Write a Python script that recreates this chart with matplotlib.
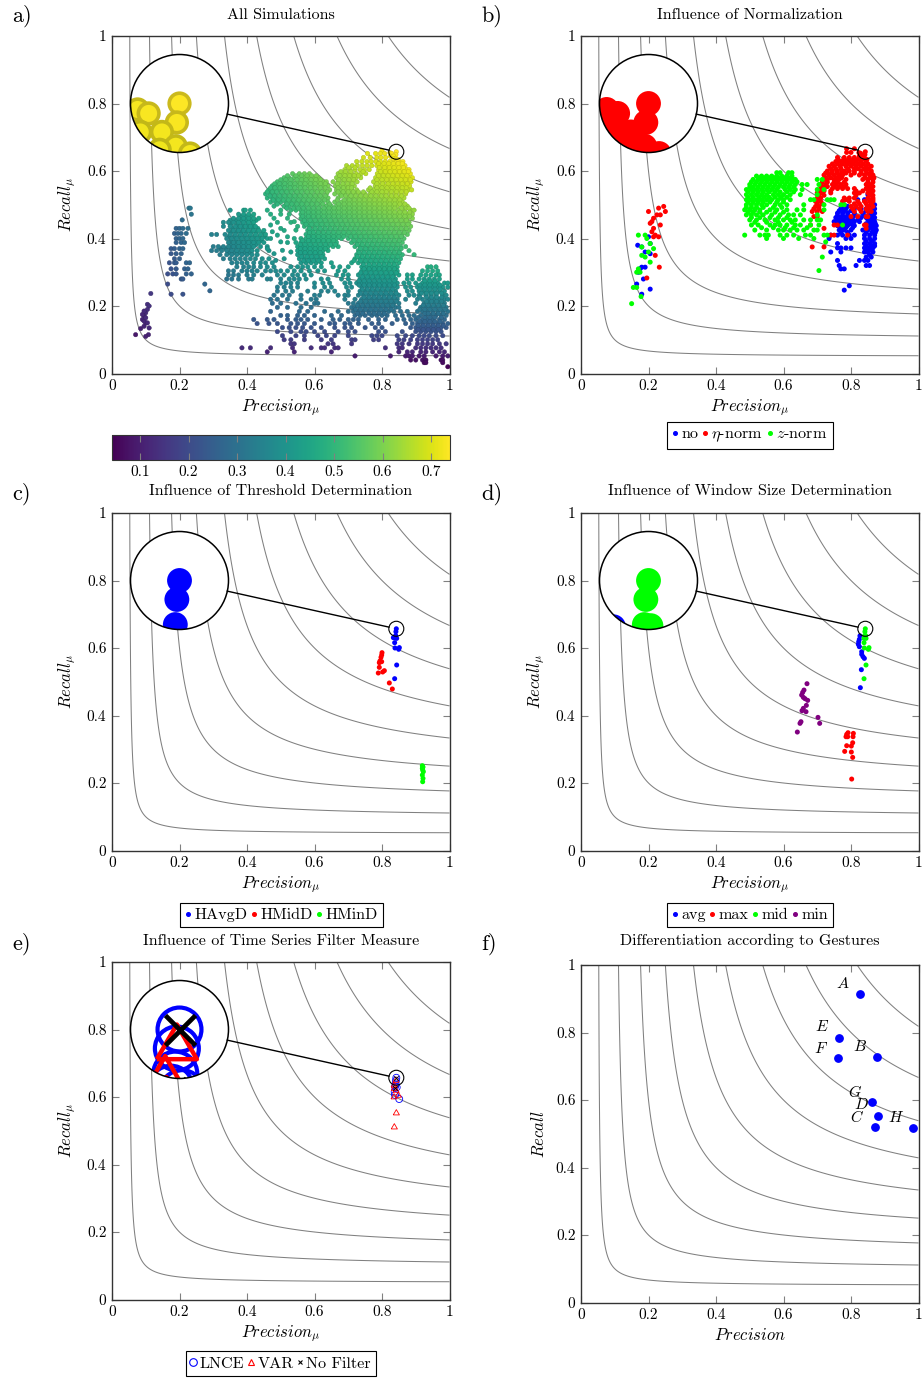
import numpy as np
import matplotlib
matplotlib.use("Agg")
import matplotlib.pyplot as plt
from matplotlib.lines import Line2D
from matplotlib.patches import Circle
from matplotlib.colors import Normalize
from matplotlib.cm import ScalarMappable

plt.rcParams['font.family'] = ['cmr10', 'DejaVu Serif']
plt.rcParams['mathtext.fontset'] = 'cm'
plt.rcParams['axes.formatter.use_mathtext'] = True

W, H = 922, 1378
SIZE = 337.5
GRAY = '#808080'

ticks = [0, 0.2, 0.4, 0.6, 0.8, 1]
tick_labels = ['0', '0.2', '0.4', '0.6', '0.8', '1']
f_levels = [0.1, 0.2, 0.3, 0.4, 0.5, 0.6, 0.7, 0.8, 0.9]
cbar_ticks = [0.1, 0.2, 0.3, 0.4, 0.5, 0.6, 0.7]

# spy glass: region that gets magnified
spy_p, spy_r = 0.8424, 0.657

# points that are visible inside the lens (same in several panels)
top_p = [0.8424, 0.8412, 0.8405]
top_r = [0.657, 0.6484, 0.637]

# a) rows of recall -> precision values
a_main_recall = [0.66, 0.652, 0.64, 0.628, 0.616, 0.604, 0.592, 0.58, 0.568, 0.556, 0.544, 0.532, 0.52, 0.508,
                 0.496, 0.484, 0.472, 0.46, 0.448, 0.436, 0.424, 0.412, 0.4, 0.388, 0.376, 0.364, 0.352, 0.34,
                 0.328, 0.316, 0.304, 0.292, 0.28, 0.268, 0.256, 0.244, 0.232, 0.22, 0.208, 0.196, 0.184, 0.172,
                 0.16, 0.148, 0.136, 0.124, 0.112, 0.1, 0.088, 0.076, 0.064, 0.052, 0.04, 0.032, 0.02]
a_main_precision = [
    [0.80],
    [0.757, 0.781, 0.795, 0.808],
    [0.745, 0.765, 0.785, 0.797, 0.811],
    [0.725, 0.74, 0.755, 0.768, 0.782, 0.795, 0.809, 0.823, 0.837, 0.851, 0.862],
    [0.695, 0.712, 0.727, 0.742, 0.756, 0.77, 0.785, 0.799, 0.813, 0.827, 0.841, 0.855, 0.868],
    [0.69, 0.705, 0.72, 0.735, 0.748, 0.762, 0.79, 0.804, 0.818, 0.832, 0.846, 0.86, 0.873, 0.88],
    [0.535, 0.555, 0.57, 0.585, 0.67, 0.682, 0.696, 0.71, 0.724, 0.738, 0.752, 0.786, 0.8, 0.814, 0.828, 0.842, 0.856, 0.87, 0.884],
    [0.51, 0.525, 0.54, 0.555, 0.57, 0.584, 0.598, 0.612, 0.665, 0.68, 0.694, 0.708, 0.722, 0.737, 0.781, 0.795, 0.809, 0.823, 0.837, 0.851, 0.865, 0.878, 0.89],
    [0.49, 0.505, 0.52, 0.535, 0.55, 0.565, 0.58, 0.595, 0.61, 0.625, 0.635, 0.655, 0.67, 0.684, 0.698, 0.712, 0.726, 0.775, 0.79, 0.804, 0.818, 0.832, 0.846, 0.86, 0.872, 0.886],
    [0.475, 0.49, 0.505, 0.52, 0.535, 0.55, 0.565, 0.58, 0.595, 0.61, 0.625, 0.64, 0.662, 0.676, 0.69, 0.704, 0.718, 0.78, 0.795, 0.81, 0.825, 0.84, 0.853, 0.868, 0.882],
    [0.465, 0.48, 0.495, 0.51, 0.525, 0.54, 0.555, 0.57, 0.585, 0.6, 0.615, 0.63, 0.645, 0.665, 0.68, 0.695, 0.71, 0.725, 0.76, 0.775, 0.79, 0.805, 0.82, 0.835, 0.85, 0.865, 0.878, 0.888],
    [0.455, 0.47, 0.485, 0.5, 0.515, 0.53, 0.545, 0.56, 0.575, 0.59, 0.605, 0.62, 0.635, 0.66, 0.675, 0.69, 0.705, 0.72, 0.735, 0.75, 0.765, 0.78, 0.795, 0.81, 0.825, 0.84, 0.855, 0.87],
    [0.46, 0.475, 0.49, 0.505, 0.52, 0.535, 0.55, 0.565, 0.58, 0.595, 0.61, 0.625, 0.64, 0.67, 0.7, 0.715, 0.73, 0.745, 0.76, 0.775, 0.79, 0.805, 0.82, 0.835, 0.85, 0.865],
    [0.47, 0.485, 0.5, 0.515, 0.53, 0.545, 0.56, 0.575, 0.59, 0.605, 0.62, 0.64, 0.66, 0.68, 0.695, 0.71, 0.725, 0.74, 0.755, 0.77, 0.785, 0.8, 0.815, 0.83, 0.845, 0.86],
    [0.48, 0.51, 0.525, 0.54, 0.555, 0.57, 0.585, 0.6, 0.615, 0.635, 0.65, 0.665, 0.68, 0.695, 0.71, 0.725, 0.74, 0.755, 0.77, 0.785, 0.8, 0.815, 0.83, 0.845, 0.86, 0.875],
    [0.46, 0.5, 0.53, 0.545, 0.56, 0.575, 0.59, 0.605, 0.62, 0.635, 0.65, 0.665, 0.68, 0.695, 0.71, 0.725, 0.74, 0.755, 0.77, 0.785, 0.8, 0.815, 0.83, 0.85, 0.865, 0.885, 0.895],
    [0.47, 0.5, 0.525, 0.56, 0.575, 0.59, 0.605, 0.62, 0.635, 0.65, 0.665, 0.68, 0.695, 0.71, 0.725, 0.74, 0.755, 0.77, 0.785, 0.8, 0.815, 0.83, 0.845, 0.86, 0.875, 0.89],
    [0.48, 0.52, 0.56, 0.575, 0.59, 0.605, 0.62, 0.635, 0.65, 0.665, 0.68, 0.695, 0.71, 0.725, 0.74, 0.755, 0.77, 0.785, 0.8, 0.815, 0.83, 0.845, 0.86, 0.875, 0.89],
    [0.49, 0.53, 0.565, 0.58, 0.595, 0.61, 0.625, 0.64, 0.655, 0.67, 0.685, 0.7, 0.715, 0.73, 0.745, 0.76, 0.775, 0.79, 0.805, 0.82, 0.835, 0.85, 0.865, 0.88],
    [0.55, 0.57, 0.585, 0.6, 0.615, 0.63, 0.645, 0.66, 0.675, 0.69, 0.705, 0.72, 0.735, 0.75, 0.765, 0.78, 0.795, 0.81, 0.825, 0.84, 0.855, 0.87, 0.885],
    [0.51, 0.58, 0.595, 0.61, 0.625, 0.64, 0.655, 0.67, 0.685, 0.7, 0.715, 0.73, 0.745, 0.76, 0.775, 0.79, 0.805, 0.82, 0.835, 0.85, 0.865, 0.88],
    [0.575, 0.59, 0.605, 0.62, 0.635, 0.65, 0.665, 0.68, 0.695, 0.71, 0.725, 0.74, 0.755, 0.77, 0.785, 0.8, 0.815, 0.83, 0.845, 0.86, 0.875],
    [0.54, 0.56, 0.575, 0.59, 0.605, 0.62, 0.635, 0.65, 0.665, 0.68, 0.7, 0.715, 0.73, 0.745, 0.76, 0.775, 0.79, 0.805, 0.82, 0.835, 0.85, 0.865],
    [0.52, 0.545, 0.56, 0.575, 0.59, 0.605, 0.62, 0.635, 0.65, 0.665, 0.71, 0.725, 0.74, 0.755, 0.77, 0.785, 0.8, 0.815, 0.83, 0.845, 0.86],
    [0.55, 0.565, 0.58, 0.595, 0.61, 0.625, 0.64, 0.655, 0.67, 0.72, 0.735, 0.75, 0.765, 0.78, 0.795, 0.81, 0.825, 0.84, 0.855, 0.87],
    [0.55, 0.565, 0.58, 0.595, 0.61, 0.625, 0.64, 0.73, 0.745, 0.76, 0.775, 0.79, 0.805, 0.82, 0.835, 0.85, 0.88],
    [0.55, 0.565, 0.58, 0.595, 0.61, 0.625, 0.725, 0.74, 0.755, 0.77, 0.785, 0.8, 0.815, 0.83, 0.845, 0.86, 0.895],
    [0.555, 0.57, 0.585, 0.6, 0.615, 0.63, 0.72, 0.735, 0.75, 0.765, 0.78, 0.795, 0.81, 0.825, 0.84, 0.855],
    [0.56, 0.575, 0.59, 0.605, 0.62, 0.65, 0.71, 0.73, 0.745, 0.76, 0.775, 0.79, 0.805, 0.82, 0.835, 0.85],
    [0.53, 0.55, 0.565, 0.58, 0.6, 0.62, 0.655, 0.675, 0.7, 0.74, 0.755, 0.77, 0.785, 0.8, 0.815, 0.83, 0.845, 0.935, 0.945, 0.96],
    [0.5, 0.52, 0.54, 0.56, 0.585, 0.61, 0.63, 0.67, 0.69, 0.74, 0.755, 0.77, 0.785, 0.8, 0.815, 0.83, 0.845, 0.92, 0.935, 0.95, 0.965],
    [0.51, 0.535, 0.55, 0.57, 0.59, 0.665, 0.685, 0.7, 0.73, 0.745, 0.76, 0.775, 0.79, 0.805, 0.82, 0.835, 0.85, 0.875, 0.89, 0.915, 0.93, 0.945, 0.96, 0.97],
    [0.5, 0.525, 0.54, 0.555, 0.575, 0.62, 0.64, 0.68, 0.7, 0.735, 0.75, 0.765, 0.78, 0.795, 0.81, 0.825, 0.84, 0.875, 0.89, 0.91, 0.925, 0.94, 0.955, 0.97],
    [0.5, 0.515, 0.53, 0.55, 0.6, 0.625, 0.645, 0.69, 0.705, 0.725, 0.74, 0.755, 0.77, 0.785, 0.8, 0.815, 0.83, 0.845, 0.865, 0.88, 0.9, 0.92, 0.935, 0.95, 0.965, 0.985, 0.995],
    [0.49, 0.51, 0.53, 0.55, 0.6, 0.63, 0.65, 0.695, 0.71, 0.74, 0.755, 0.77, 0.785, 0.8, 0.815, 0.83, 0.845, 0.87, 0.885, 0.905, 0.92, 0.935, 0.95, 0.965, 0.98, 0.995],
    [0.49, 0.515, 0.535, 0.58, 0.62, 0.64, 0.66, 0.7, 0.735, 0.75, 0.765, 0.78, 0.795, 0.81, 0.825, 0.84, 0.875, 0.89, 0.91, 0.925, 0.94, 0.955, 0.97, 0.985],
    [0.48, 0.505, 0.525, 0.56, 0.6, 0.615, 0.67, 0.69, 0.7, 0.73, 0.745, 0.76, 0.775, 0.79, 0.805, 0.82, 0.835, 0.85, 0.88, 0.895, 0.91, 0.93, 0.945, 0.96, 0.98, 0.99],
    [0.47, 0.49, 0.52, 0.56, 0.59, 0.605, 0.69, 0.72, 0.74, 0.755, 0.77, 0.785, 0.8, 0.815, 0.83, 0.845, 0.87, 0.905, 0.92, 0.94, 0.955, 0.97, 0.985, 0.995],
    [0.475, 0.5, 0.545, 0.575, 0.6, 0.61, 0.7, 0.715, 0.73, 0.745, 0.76, 0.775, 0.79, 0.805, 0.82, 0.835, 0.85, 0.9, 0.925, 0.94, 0.955, 0.97, 0.985],
    [0.49, 0.52, 0.56, 0.59, 0.71, 0.72, 0.735, 0.75, 0.765, 0.78, 0.795, 0.81, 0.825, 0.84, 0.85, 0.915, 0.93, 0.945, 0.96, 0.975, 0.99],
    [0.47, 0.555, 0.58, 0.63, 0.67, 0.7, 0.715, 0.73, 0.745, 0.76, 0.775, 0.79, 0.805, 0.82, 0.835, 0.855, 0.875, 0.905, 0.92, 0.935, 0.95, 0.965, 0.98, 0.995],
    [0.5, 0.52, 0.55, 0.57, 0.6, 0.65, 0.68, 0.72, 0.735, 0.75, 0.77, 0.785, 0.8, 0.815, 0.84, 0.86, 0.88, 0.895, 0.915, 0.93, 0.945, 0.96, 0.975, 0.99],
    [0.42, 0.46, 0.48, 0.52, 0.545, 0.56, 0.58, 0.62, 0.655, 0.675, 0.7, 0.715, 0.73, 0.76, 0.79, 0.81, 0.845, 0.865, 0.885, 0.9, 0.92, 0.935, 0.95, 0.97, 0.985],
    [0.43, 0.465, 0.49, 0.53, 0.55, 0.57, 0.6, 0.645, 0.66, 0.69, 0.705, 0.73, 0.77, 0.79, 0.83, 0.87, 0.89, 0.905, 0.92, 0.935, 0.95, 0.965, 0.98, 0.995],
    [0.505, 0.525, 0.545, 0.565, 0.59, 0.62, 0.66, 0.69, 0.71, 0.75, 0.78, 0.8, 0.885, 0.9, 0.915, 0.93, 0.945, 0.96, 0.975, 0.99],
    [0.49, 0.53, 0.56, 0.575, 0.6, 0.63, 0.67, 0.7, 0.72, 0.79, 0.81, 0.86, 0.9, 0.915, 0.93, 0.945, 0.96, 0.975],
    [0.505, 0.545, 0.57, 0.61, 0.635, 0.66, 0.7, 0.77, 0.785, 0.8, 0.845, 0.87, 0.89, 0.91, 0.925, 0.94, 0.96, 0.98],
    [0.51, 0.53, 0.57, 0.62, 0.65, 0.71, 0.72, 0.775, 0.79, 0.85, 0.865, 0.885, 0.905, 0.92, 0.935, 0.95, 0.965],
    [0.53, 0.54, 0.64, 0.655, 0.71, 0.845, 0.86, 0.88, 0.905, 0.92, 0.935, 0.95, 0.97, 0.99],
    [0.385, 0.41, 0.47, 0.535, 0.59, 0.62, 0.63, 0.66, 0.67, 0.81, 0.85, 0.86, 0.9, 0.915, 0.93, 0.945, 0.96, 0.975],
    [0.46, 0.54, 0.65, 0.85, 0.875, 0.89, 0.915, 0.93, 0.95, 0.97, 0.985],
    [0.72, 0.825, 0.87, 0.88, 0.89, 0.91, 0.925, 0.96, 0.98, 0.995],
    [0.885, 0.9, 0.92, 0.93, 0.975, 0.98],
    [0.925, 0.93, 0.98],
    [0.995],
]
# dense parts have more points between the rows above
a_fill_recall = [0.622, 0.61, 0.598, 0.586, 0.574, 0.562, 0.55, 0.538, 0.526, 0.514, 0.502, 0.49, 0.478, 0.466, 0.454,
                 0.442, 0.43, 0.418, 0.406, 0.394, 0.382, 0.37, 0.358, 0.346, 0.334, 0.322, 0.31, 0.298, 0.286, 0.274,
                 0.262, 0.25, 0.238, 0.226, 0.214, 0.202, 0.19, 0.178, 0.166, 0.154, 0.142, 0.13]
a_fill_precision = [
    [0.79, 0.806, 0.82, 0.834, 0.848, 0.86],
    [0.702, 0.72, 0.792, 0.808, 0.822, 0.836, 0.85, 0.864],
    [0.678, 0.692, 0.708, 0.744, 0.796, 0.81, 0.824, 0.838, 0.852, 0.866, 0.878],
    [0.52, 0.545, 0.562, 0.578, 0.592, 0.605, 0.675, 0.69, 0.704, 0.718, 0.73, 0.79, 0.804, 0.818, 0.832, 0.846, 0.86, 0.874],
    [0.5, 0.515, 0.53, 0.548, 0.562, 0.575, 0.59, 0.604, 0.618, 0.672, 0.688, 0.702, 0.716, 0.785, 0.8, 0.814, 0.828, 0.842, 0.856, 0.87, 0.884],
    [0.482, 0.497, 0.512, 0.528, 0.542, 0.558, 0.572, 0.588, 0.602, 0.618, 0.632, 0.668, 0.684, 0.698, 0.712, 0.785, 0.802, 0.818, 0.832, 0.846, 0.86, 0.875],
    [0.47, 0.483, 0.498, 0.512, 0.528, 0.542, 0.558, 0.572, 0.588, 0.602, 0.618, 0.632, 0.67, 0.686, 0.7, 0.71, 0.765, 0.785, 0.8, 0.815, 0.83, 0.845, 0.86, 0.872],
    [0.46, 0.475, 0.488, 0.503, 0.518, 0.532, 0.548, 0.562, 0.578, 0.592, 0.608, 0.622, 0.638, 0.67, 0.685, 0.7, 0.715, 0.73, 0.745, 0.77, 0.785, 0.8, 0.813, 0.828, 0.843, 0.858, 0.872],
    [0.468, 0.482, 0.497, 0.512, 0.527, 0.542, 0.557, 0.572, 0.587, 0.602, 0.617, 0.632, 0.68, 0.692, 0.708, 0.722, 0.737, 0.752, 0.767, 0.782, 0.798, 0.812, 0.828, 0.842, 0.858],
    [0.478, 0.493, 0.508, 0.523, 0.538, 0.553, 0.568, 0.583, 0.598, 0.613, 0.63, 0.668, 0.688, 0.703, 0.718, 0.733, 0.748, 0.763, 0.778, 0.793, 0.808, 0.823, 0.838, 0.853],
    [0.49, 0.518, 0.533, 0.548, 0.563, 0.578, 0.593, 0.608, 0.625, 0.645, 0.672, 0.688, 0.703, 0.718, 0.733, 0.748, 0.763, 0.778, 0.793, 0.808, 0.823, 0.838, 0.853, 0.868],
    [0.518, 0.538, 0.552, 0.567, 0.582, 0.597, 0.612, 0.628, 0.643, 0.658, 0.672, 0.688, 0.703, 0.718, 0.733, 0.748, 0.763, 0.778, 0.793, 0.808, 0.823, 0.838, 0.858, 0.872, 0.88],
    [0.565, 0.582, 0.597, 0.612, 0.628, 0.643, 0.658, 0.672, 0.688, 0.703, 0.718, 0.733, 0.748, 0.763, 0.778, 0.793, 0.808, 0.823, 0.838, 0.853, 0.868, 0.882],
    [0.38, 0.395, 0.41, 0.565, 0.582, 0.597, 0.612, 0.628, 0.643, 0.658, 0.672, 0.688, 0.703, 0.718, 0.733, 0.748, 0.763, 0.778, 0.793, 0.808, 0.823, 0.838, 0.853, 0.868, 0.882],
    [0.35, 0.367, 0.382, 0.397, 0.412, 0.427, 0.57, 0.587, 0.602, 0.617, 0.632, 0.647, 0.662, 0.677, 0.692, 0.707, 0.722, 0.737, 0.752, 0.767, 0.782, 0.797, 0.812, 0.827, 0.842, 0.857, 0.872],
    [0.352, 0.372, 0.387, 0.402, 0.417, 0.575, 0.592, 0.607, 0.622, 0.637, 0.652, 0.667, 0.682, 0.697, 0.712, 0.727, 0.742, 0.757, 0.772, 0.787, 0.802, 0.817, 0.832, 0.847, 0.862, 0.877],
    [0.357, 0.372, 0.387, 0.402, 0.417, 0.432, 0.585, 0.602, 0.617, 0.632, 0.647, 0.662, 0.677, 0.692, 0.707, 0.722, 0.737, 0.752, 0.767, 0.782, 0.797, 0.812, 0.827, 0.842, 0.857, 0.872],
    [0.352, 0.367, 0.382, 0.397, 0.412, 0.427, 0.447, 0.585, 0.597, 0.612, 0.627, 0.642, 0.657, 0.672, 0.687, 0.702, 0.717, 0.732, 0.747, 0.762, 0.777, 0.792, 0.807, 0.822, 0.837, 0.852, 0.867],
    [0.347, 0.362, 0.377, 0.392, 0.407, 0.422, 0.437, 0.452, 0.582, 0.597, 0.612, 0.627, 0.642, 0.657, 0.672, 0.687, 0.707, 0.722, 0.737, 0.752, 0.767, 0.782, 0.797, 0.812, 0.827, 0.842, 0.857],
    [0.352, 0.367, 0.382, 0.397, 0.412, 0.427, 0.442, 0.565, 0.582, 0.597, 0.612, 0.627, 0.642, 0.657, 0.717, 0.732, 0.747, 0.762, 0.777, 0.792, 0.807, 0.822, 0.837, 0.852],
    [0.352, 0.367, 0.382, 0.397, 0.412, 0.427, 0.558, 0.572, 0.587, 0.602, 0.617, 0.632, 0.647, 0.662, 0.727, 0.742, 0.757, 0.772, 0.787, 0.802, 0.817, 0.832, 0.847],
    [0.322, 0.337, 0.352, 0.367, 0.382, 0.397, 0.412, 0.558, 0.572, 0.587, 0.602, 0.617, 0.632, 0.737, 0.752, 0.767, 0.782, 0.797, 0.812, 0.827, 0.842, 0.857],
    [0.347, 0.362, 0.377, 0.392, 0.407, 0.558, 0.572, 0.587, 0.602, 0.617, 0.732, 0.747, 0.762, 0.777, 0.792, 0.807, 0.822, 0.837, 0.852],
    [0.562, 0.578, 0.592, 0.607, 0.622, 0.727, 0.742, 0.757, 0.772, 0.787, 0.802, 0.817, 0.832, 0.847],
    [0.568, 0.582, 0.597, 0.612, 0.717, 0.737, 0.752, 0.767, 0.782, 0.797, 0.812, 0.827, 0.842],
    [0.745, 0.762, 0.777, 0.792, 0.807, 0.822, 0.837],
    [0.747, 0.762, 0.777, 0.792, 0.807, 0.822, 0.837],
    [0.737, 0.752, 0.767, 0.782, 0.797, 0.812, 0.827, 0.842],
    [0.742, 0.757, 0.772, 0.787, 0.802, 0.817, 0.832],
    [0.732, 0.747, 0.762, 0.777, 0.792, 0.807, 0.822, 0.837, 0.927, 0.942, 0.957],
    [0.732, 0.747, 0.762, 0.777, 0.792, 0.807, 0.822, 0.837, 0.912, 0.927, 0.942, 0.957, 0.972],
    [0.742, 0.757, 0.772, 0.787, 0.802, 0.817, 0.832, 0.912, 0.927, 0.942, 0.957, 0.972],
    [0.737, 0.752, 0.767, 0.782, 0.797, 0.812, 0.827, 0.842, 0.917, 0.932, 0.947, 0.962, 0.977],
    [0.747, 0.762, 0.777, 0.792, 0.807, 0.822, 0.837, 0.912, 0.932, 0.947, 0.962, 0.977],
    [0.737, 0.752, 0.767, 0.782, 0.797, 0.812, 0.827, 0.842, 0.932, 0.947, 0.962, 0.977],
    [0.727, 0.742, 0.757, 0.772, 0.787, 0.802, 0.817, 0.832, 0.922, 0.937, 0.952, 0.967, 0.982],
    [0.722, 0.737, 0.752, 0.767, 0.782, 0.797, 0.812, 0.827, 0.912, 0.927, 0.942, 0.957, 0.972, 0.987],
    [0.727, 0.742, 0.762, 0.777, 0.792, 0.807, 0.927, 0.937, 0.952, 0.967, 0.982],
    [0.907, 0.927, 0.942, 0.957, 0.977],
    [0.912, 0.927, 0.942, 0.957, 0.972],
    [0.907, 0.922, 0.937, 0.952, 0.967, 0.982],
    [0.907, 0.922, 0.937, 0.952, 0.967],
]
# teal and blue clusters on the left
a_left_recall = [0.49, 0.484, 0.472, 0.46, 0.455, 0.448, 0.436, 0.43, 0.424, 0.415, 0.412, 0.4, 0.388, 0.376, 0.37,
                 0.364, 0.355, 0.352, 0.34, 0.328, 0.316, 0.31, 0.304, 0.295, 0.292, 0.28, 0.265, 0.245, 0.235]
a_left_precision = [
    [0.228, 0.232],
    [0.35, 0.39, 0.395, 0.41],
    [0.235, 0.375, 0.39, 0.405, 0.42],
    [0.36, 0.375, 0.39, 0.405, 0.42, 0.435],
    [0.208],
    [0.33, 0.345, 0.36, 0.375, 0.39, 0.405, 0.42],
    [0.33, 0.35, 0.365, 0.38, 0.395, 0.41, 0.425],
    [0.19, 0.2, 0.21, 0.225],
    [0.345, 0.36, 0.375, 0.39, 0.405, 0.42, 0.435, 0.45],
    [0.185, 0.195, 0.205, 0.22],
    [0.295, 0.31, 0.335, 0.35, 0.365, 0.38, 0.395, 0.41, 0.425, 0.44, 0.455],
    [0.19, 0.2, 0.21, 0.34, 0.355, 0.37, 0.385, 0.4, 0.415, 0.43, 0.445, 0.46],
    [0.19, 0.205, 0.215, 0.345, 0.36, 0.375, 0.39, 0.405, 0.42, 0.435, 0.45],
    [0.3, 0.315, 0.33, 0.345, 0.36, 0.375, 0.39, 0.405, 0.42, 0.44, 0.46],
    [0.175, 0.185, 0.2, 0.21],
    [0.295, 0.31, 0.325, 0.34, 0.355, 0.37, 0.385, 0.4, 0.415, 0.43, 0.465],
    [0.175, 0.19, 0.205],
    [0.32, 0.34, 0.355, 0.37, 0.385, 0.4, 0.415, 0.43],
    [0.185, 0.2, 0.33, 0.35, 0.365, 0.38, 0.395, 0.41, 0.425, 0.445, 0.465],
    [0.17, 0.185, 0.19, 0.22, 0.23, 0.355, 0.37, 0.385, 0.4, 0.42, 0.44, 0.455, 0.475],
    [0.37, 0.39, 0.405, 0.42, 0.44, 0.46, 0.48],
    [0.175, 0.19, 0.215, 0.225],
    [0.345, 0.36, 0.385, 0.4, 0.415, 0.43, 0.455, 0.47, 0.485],
    [0.165, 0.18, 0.19, 0.22, 0.235],
    [0.345, 0.36, 0.375, 0.4, 0.42, 0.445, 0.49],
    [0.205, 0.21, 0.34, 0.355, 0.375, 0.405, 0.415, 0.46, 0.47],
    [0.165, 0.275],
    [0.29],
    [0.175, 0.21],
]
a_purple_p = [0.07, 0.085, 0.095, 0.1, 0.11, 0.115, 0.105, 0.11, 0.1, 0.095, 0.09, 0.095, 0.105, 0.108, 0.1, 0.09, 0.1, 0.105, 0.095]
a_purple_r = [0.115, 0.133, 0.14, 0.15, 0.135, 0.237, 0.205, 0.2, 0.18, 0.17, 0.16, 0.155, 0.19, 0.115, 0.11, 0.175, 0.165, 0.15, 0.185]
a_bridge_p = [0.47, 0.49, 0.5, 0.54, 0.5, 0.47, 0.46, 0.48, 0.53, 0.51, 0.485, 0.52, 0.545, 0.505, 0.475]
a_bridge_r = [0.44, 0.41, 0.43, 0.45, 0.39, 0.4, 0.37, 0.355, 0.36, 0.34, 0.335, 0.405, 0.425, 0.365, 0.42]
a_lens_p = [0.8424, 0.8412, 0.8234, 0.8284, 0.8246, 0.8344, 0.8407, 0.8334, 0.8472]
a_lens_r = [0.657, 0.6484, 0.6543, 0.6525, 0.6441, 0.6441, 0.6376, 0.636, 0.6343]

# b) influence of normalization
b_red_recall = [0.666, 0.655, 0.64, 0.634, 0.628, 0.621, 0.614, 0.607, 0.6, 0.594, 0.588, 0.58, 0.575, 0.567, 0.56, 0.554,
                0.548, 0.541, 0.535, 0.528, 0.52, 0.515, 0.51, 0.503, 0.495, 0.488, 0.48, 0.465, 0.44, 0.43, 0.41, 0.375]
b_red_precision = [
    [0.787, 0.81],
    [0.787, 0.8],
    [0.76, 0.78, 0.795, 0.81],
    [0.762, 0.778, 0.792, 0.806, 0.82],
    [0.755, 0.77, 0.785, 0.8, 0.815, 0.83, 0.845],
    [0.745, 0.76, 0.775, 0.79, 0.805, 0.82, 0.835, 0.85],
    [0.735, 0.75, 0.768, 0.785, 0.8, 0.815, 0.83, 0.845, 0.86],
    [0.74, 0.755, 0.77, 0.79, 0.81, 0.82, 0.84, 0.852],
    [0.73, 0.745, 0.76, 0.78, 0.795, 0.81, 0.83, 0.845, 0.86],
    [0.725, 0.742, 0.758, 0.772, 0.785, 0.81, 0.83, 0.847, 0.86],
    [0.72, 0.735, 0.75, 0.765, 0.775, 0.8, 0.825, 0.84, 0.855, 0.865],
    [0.725, 0.74, 0.758, 0.772, 0.842, 0.858, 0.868],
    [0.72, 0.73, 0.75, 0.765, 0.785, 0.835, 0.85, 0.865],
    [0.715, 0.73, 0.75, 0.76, 0.78, 0.85, 0.865],
    [0.71, 0.725, 0.745, 0.755, 0.77, 0.785, 0.845, 0.86],
    [0.715, 0.73, 0.75, 0.765, 0.78, 0.85, 0.865],
    [0.71, 0.72, 0.745, 0.76, 0.775, 0.79, 0.81, 0.845, 0.86],
    [0.705, 0.72, 0.74, 0.815, 0.835, 0.855, 0.865],
    [0.7, 0.715, 0.74, 0.81, 0.825, 0.85, 0.86],
    [0.705, 0.72, 0.815, 0.855, 0.865],
    [0.7, 0.71, 0.78, 0.795, 0.81, 0.85, 0.865],
    [0.7, 0.785, 0.855, 0.865],
    [0.695, 0.71, 0.775, 0.795, 0.82, 0.84, 0.855, 0.865],
    [0.7, 0.715, 0.81, 0.825, 0.845, 0.86],
    [0.695, 0.705, 0.8, 0.815, 0.83, 0.85, 0.865],
    [0.69, 0.705, 0.805, 0.825, 0.845, 0.855],
    [0.685, 0.7, 0.715, 0.81, 0.83, 0.85, 0.86],
    [0.69, 0.7, 0.8, 0.82, 0.845, 0.85],
    [0.68, 0.75, 0.76, 0.84, 0.845],
    [0.72, 0.845],
    [0.74, 0.75, 0.79],
    [0.685, 0.72],
]
b_red_p = [0.8424, 0.8412, 0.8234, 0.8284, 0.8246, 0.8344, 0.8407, 0.8334, 0.8472, 0.8284, 0.2, 0.23, 0.245, 0.25, 0.225, 0.235, 0.21, 0.215, 0.205, 0.235, 0.215, 0.21, 0.22, 0.23, 0.215, 0.22, 0.232, 0.195]
b_red_r = [0.657, 0.6484, 0.6543, 0.6525, 0.6441, 0.6441, 0.6376, 0.636, 0.6343, 0.6445, 0.48, 0.49, 0.495, 0.48, 0.47, 0.47, 0.45, 0.46, 0.445, 0.44, 0.43, 0.42, 0.41, 0.405, 0.405, 0.35, 0.315, 0.283]

b_blue_recall = [0.53, 0.515, 0.5, 0.495, 0.488, 0.482, 0.475, 0.468, 0.462, 0.456, 0.45, 0.444, 0.438, 0.432, 0.425, 0.418,
                 0.41, 0.4, 0.392, 0.385, 0.378, 0.372, 0.366, 0.36, 0.352, 0.345, 0.335, 0.32, 0.31, 0.26, 0.247]
b_blue_precision = [
    [0.85],
    [0.78, 0.82, 0.84],
    [0.78, 0.865, 0.87],
    [0.775, 0.79, 0.85, 0.862],
    [0.77, 0.785, 0.81, 0.83, 0.845, 0.855, 0.87],
    [0.765, 0.78, 0.8, 0.845, 0.862],
    [0.76, 0.775, 0.79, 0.81, 0.835, 0.855, 0.87],
    [0.76, 0.775, 0.79, 0.81, 0.84, 0.855, 0.865],
    [0.755, 0.77, 0.785, 0.8, 0.83, 0.845, 0.86, 0.87],
    [0.76, 0.775, 0.79, 0.805, 0.82, 0.85, 0.865],
    [0.75, 0.765, 0.78, 0.795, 0.81, 0.825, 0.855, 0.87],
    [0.755, 0.77, 0.785, 0.8, 0.845, 0.86, 0.872],
    [0.76, 0.775, 0.79, 0.81, 0.85, 0.865, 0.875],
    [0.77, 0.785, 0.805, 0.845, 0.86, 0.87],
    [0.765, 0.78, 0.8, 0.835, 0.85, 0.865, 0.875],
    [0.77, 0.79, 0.845, 0.862, 0.872],
    [0.74, 0.76, 0.775, 0.795, 0.81, 0.84, 0.855, 0.87],
    [0.735, 0.785, 0.8, 0.84, 0.855, 0.87],
    [0.845, 0.862],
    [0.76, 0.84, 0.855, 0.87],
    [0.845, 0.86, 0.87],
    [0.76, 0.77, 0.785, 0.8, 0.84, 0.855, 0.865],
    [0.845, 0.86],
    [0.74, 0.77, 0.84, 0.85, 0.865],
    [0.855],
    [0.845, 0.86],
    [0.76, 0.825, 0.84, 0.85],
    [0.765, 0.815, 0.845, 0.855],
    [0.77, 0.78],
    [0.795],
    [0.78],
]
b_blue_p = [0.168, 0.18, 0.2, 0.205, 0.19, 0.205, 0.175, 0.19, 0.18, 0.165, 0.185, 0.18, 0.205, 0.17]
b_blue_r = [0.38, 0.375, 0.405, 0.385, 0.36, 0.355, 0.31, 0.315, 0.315, 0.265, 0.28, 0.235, 0.25, 0.3]

b_green_recall = [0.595, 0.585, 0.58, 0.575, 0.568, 0.56, 0.552, 0.545, 0.538, 0.53, 0.522, 0.515, 0.508, 0.5, 0.492, 0.485,
                  0.478, 0.47, 0.462, 0.455, 0.448, 0.44, 0.432, 0.425, 0.41, 0.4, 0.39, 0.345, 0.305]
b_green_precision = [
    [0.58, 0.59, 0.615, 0.625],
    [0.52, 0.535, 0.55, 0.565, 0.58, 0.595, 0.61, 0.625],
    [0.53, 0.545, 0.56, 0.575, 0.59, 0.605, 0.62],
    [0.51, 0.525, 0.54, 0.555, 0.57, 0.585, 0.6, 0.615, 0.63, 0.635, 0.7, 0.715],
    [0.505, 0.52, 0.535, 0.55, 0.565, 0.58, 0.595, 0.61, 0.625, 0.64],
    [0.5, 0.515, 0.53, 0.545, 0.56, 0.575, 0.59, 0.605, 0.62, 0.635, 0.655, 0.67, 0.705],
    [0.5, 0.51, 0.525, 0.54, 0.555, 0.57, 0.585, 0.6, 0.615, 0.63],
    [0.49, 0.505, 0.52, 0.535, 0.55, 0.565, 0.58, 0.605, 0.62, 0.635, 0.655, 0.7, 0.72],
    [0.495, 0.51, 0.525, 0.54, 0.558, 0.575, 0.59, 0.61, 0.63],
    [0.49, 0.505, 0.52, 0.535, 0.55, 0.57, 0.585, 0.6, 0.62, 0.65, 0.7],
    [0.495, 0.51, 0.528, 0.543, 0.558, 0.575, 0.592, 0.61],
    [0.49, 0.505, 0.52, 0.535, 0.55, 0.565, 0.585, 0.6, 0.62, 0.68, 0.69, 0.73, 0.74, 0.75],
    [0.495, 0.51, 0.525, 0.54, 0.56, 0.58, 0.6],
    [0.49, 0.505, 0.52, 0.535, 0.55, 0.575, 0.59, 0.61, 0.66, 0.72, 0.77, 0.78],
    [0.49, 0.505, 0.52, 0.54, 0.57, 0.595],
    [0.485, 0.5, 0.515, 0.53, 0.56, 0.58, 0.61, 0.64, 0.66, 0.72],
    [0.495, 0.51, 0.53, 0.55, 0.575, 0.6],
    [0.49, 0.505, 0.52, 0.54, 0.565, 0.59, 0.615, 0.63, 0.65, 0.7],
    [0.505, 0.53, 0.56, 0.585, 0.61],
    [0.5, 0.52, 0.545, 0.575, 0.6, 0.62, 0.635, 0.66, 0.68, 0.7, 0.71],
    [0.515, 0.55, 0.585, 0.625],
    [0.505, 0.525, 0.56, 0.575, 0.59, 0.61, 0.635, 0.65, 0.68, 0.705, 0.775],
    [0.535, 0.57, 0.605, 0.63, 0.67],
    [0.515, 0.55, 0.585, 0.6, 0.62, 0.64, 0.66, 0.69, 0.7],
    [0.485, 0.53, 0.545, 0.555, 0.59, 0.61, 0.63, 0.665, 0.68, 0.72, 0.73],
    [0.55, 0.6, 0.645, 0.69],
    [0.725],
    [0.715],
    [0.705],
]
b_green_p = [0.17, 0.19, 0.195, 0.205, 0.18, 0.18, 0.19, 0.2, 0.205, 0.215, 0.17, 0.165, 0.175, 0.155, 0.165, 0.178, 0.15]
b_green_r = [0.41, 0.41, 0.4, 0.385, 0.375, 0.35, 0.345, 0.36, 0.33, 0.37, 0.31, 0.3, 0.3, 0.255, 0.255, 0.228, 0.207]

# c) threshold determination
c_havg_p = top_p + [0.8385, 0.8336, 0.8435, 0.8375, 0.8385, 0.8494, 0.8514, 0.8435, 0.8375]
c_havg_r = top_r + [0.6306, 0.6306, 0.6286, 0.6158, 0.6, 0.5962, 0.6011, 0.5496, 0.5091]
c_hmid_p = [0.8, 0.7991, 0.797, 0.794, 0.792, 0.799, 0.792, 0.789, 0.802, 0.807, 0.8217, 0.8306]
c_hmid_r = [0.5862, 0.5793, 0.5723, 0.5615, 0.5565, 0.5595, 0.5427, 0.5259, 0.5289, 0.5328, 0.4964, 0.4786]
c_hmin_p = [0.9195, 0.9215, 0.9195, 0.9205, 0.9225, 0.9195, 0.9215, 0.9205]
c_hmin_r = [0.2513, 0.2473, 0.2433, 0.2385, 0.2335, 0.2236, 0.2137, 0.2038]

# d) window size determination
d_avg_p = [0.8265, 0.8247, 0.8228, 0.8218, 0.8247, 0.8317, 0.8317, 0.8356, 0.8396, 0.8307, 0.8277]
d_avg_r = [0.636, 0.6256, 0.6187, 0.6108, 0.6039, 0.589, 0.5812, 0.5742, 0.5693, 0.5357, 0.4824]
d_max_p = [0.7912, 0.7872, 0.7852, 0.7902, 0.807, 0.806, 0.805, 0.801, 0.7872, 0.7813, 0.801, 0.805, 0.802]
d_max_r = [0.349, 0.344, 0.3371, 0.3371, 0.347, 0.3371, 0.3193, 0.3095, 0.3105, 0.2937, 0.2917, 0.2759, 0.2117]
d_mid_p = top_p + [0.8435, 0.8386, 0.8445, 0.8386, 0.8396, 0.8514, 0.8534, 0.8445, 0.8386]
d_mid_r = top_r + [0.6365, 0.6286, 0.6286, 0.6157, 0.6, 0.596, 0.601, 0.5496, 0.509]
d_min_p = [0.6696, 0.6607, 0.6568, 0.6538, 0.6588, 0.6637, 0.6716, 0.6677, 0.6588, 0.6548, 0.6667, 0.6518, 0.6489, 0.641, 0.7022, 0.7072]
d_min_r = [0.4942, 0.4754, 0.4685, 0.4606, 0.4537, 0.4498, 0.4448, 0.43, 0.4211, 0.4142, 0.4112, 0.3816, 0.3767, 0.351, 0.3944, 0.3767]

# e) time series filter
e_lnce_p = top_p + [0.8385, 0.8435, 0.8375, 0.8385, 0.851]
e_lnce_r = top_r + [0.6306, 0.6286, 0.6158, 0.606, 0.594]
e_var_p = [0.8412, 0.8359, 0.8365, 0.8415, 0.8356, 0.8484, 0.8425, 0.8365]
e_var_r = [0.6488, 0.6345, 0.625, 0.6193, 0.5996, 0.6045, 0.5522, 0.5106]
e_nofilter_p = [0.8424, 0.8385]
e_nofilter_r = [0.657, 0.628]

# f) per gesture
f_labels = ['A', 'E', 'F', 'B', 'G', 'D', 'C', 'H']
f_precision = [0.8257, 0.7635, 0.7605, 0.878, 0.8612, 0.879, 0.872, 0.9847]
f_recall = [0.9145, 0.785, 0.724, 0.728, 0.5944, 0.553, 0.5204, 0.5176]
f_label_dx = [-17, -17, -17, -17, -17, -16, -18, -17]
f_label_dy = [10, 11, 10, 10, 10, 11, 10, 10]

# closed outline, the default '^' is too tall
TRIANGLE = [(-1, -0.58), (1, -0.58), (0, 1.15), (-1, -0.58)]


def unroll(recall, precision):
    xs, ys = [], []
    for r, row in zip(recall, precision):
        xs += row
        ys += [r] * len(row)
    return np.array(xs), np.array(ys)


def add_panel(x0, y0):
    ax = fig.add_axes([x0 / W, 1 - (y0 + SIZE) / H, SIZE / W, SIZE / H])
    ax.set_xlim(0, 1)
    ax.set_ylim(0, 1)
    ax.set_xticks(ticks, tick_labels)
    ax.set_yticks(ticks, tick_labels)
    ax.tick_params(direction='in', length=5, width=0.8, color=GRAY, top=True, right=True, labelsize=11, pad=4)
    for s in ax.spines.values():
        s.set_linewidth(1.0)
        s.set_color('#333333')
    grid = np.linspace(0.001, 1, 500)
    pp, rr = np.meshgrid(grid, grid)
    ax.contour(pp, rr, 2 * pp * rr / (pp + rr), levels=f_levels, colors=GRAY, linewidths=0.75, zorder=1)
    return ax


def labels(ax, title, letter, xlab=r'$Precision_\mu$', ylab=r'$Recall_\mu$', title_y=None, letter_y=None):
    box = ax.get_position()
    cx = box.x0 * W + SIZE / 2
    fig.text(cx / W, 1 - title_y / H, title, ha='center', va='center', fontsize=11.5)
    left = 12 if box.x0 < 0.5 else 481
    fig.text(left / W, 1 - letter_y / H, letter, ha='left', va='center', fontsize=16)
    ax.set_xlabel(xlab, fontsize=12)
    ax.set_ylabel(ylab, fontsize=12)
    ax.xaxis.set_label_coords(0.5, -24 / SIZE)
    ax.yaxis.set_label_coords(-34 / SIZE, 0.5)


MAG = 6.53
LENS_R = 49 / SIZE
SPY_R = 7.5 / SIZE
LENS_X, LENS_Y = 0.2, 0.8


def lens_frame(ax):
    lens = Circle((LENS_X, LENS_Y), LENS_R, fc='white', ec='none', zorder=5)
    ax.add_patch(lens)
    ax.add_patch(Circle((LENS_X, LENS_Y), LENS_R, fc='none', ec='black', lw=1.1, zorder=8))
    ax.add_patch(Circle((spy_p, spy_r), SPY_R, fc='none', ec='black', lw=0.8, zorder=8))
    d = np.array([spy_p - LENS_X, spy_r - LENS_Y])
    d = d / np.hypot(*d)
    ax.plot([LENS_X + d[0] * LENS_R, spy_p - d[0] * SPY_R], [LENS_Y + d[1] * LENS_R, spy_r - d[1] * SPY_R],
            color='black', lw=1.0, zorder=7)
    return lens


def dots(ax, lens, x, y, c, ec='none', s=13, s_big=320, lw=0, lw_big=0, marker='o', z=3):
    x, y = np.asarray(x), np.asarray(y)
    ax.scatter(x, y, s=s, c=c, edgecolors=ec, linewidths=lw, marker=marker, zorder=z)
    big = ax.scatter(LENS_X + (x - spy_p) * MAG, LENS_Y + (y - spy_r) * MAG, s=s_big, c=c, edgecolors=ec,
                     linewidths=lw_big, marker=marker, zorder=6)
    big.set_clip_path(lens)


def legend(ax, handles, cx, cy):
    leg = ax.legend(handles=handles, loc='center', bbox_to_anchor=(cx / W, 1 - cy / H), bbox_transform=fig.transFigure,
                    ncol=len(handles), fontsize=11.6, handlelength=0.3, handletextpad=0.25, columnspacing=0.25,
                    borderpad=0.32, fancybox=False, edgecolor='black', framealpha=1, borderaxespad=0)
    leg.get_frame().set_linewidth(0.8)


def dot_handle(col, label):
    return Line2D([], [], ls='none', marker='o', ms=2.6, color=col, label=label)


fig = plt.figure(figsize=(W / 100, H / 100), dpi=100)
norm = Normalize(0.042, 0.738)
cmap = plt.get_cmap('viridis')

# a
ax = add_panel(112, 36)
labels(ax, 'All Simulations', 'a)', title_y=15, letter_y=16)
lens = lens_frame(ax)
xa1, ya1 = unroll(a_main_recall, a_main_precision)
xa2, ya2 = unroll(a_left_recall, a_left_precision)
xa3, ya3 = unroll(a_fill_recall, a_fill_precision)
xa = np.concatenate([xa1, xa3, xa2, a_bridge_p, a_purple_p, a_lens_p])
ya = np.concatenate([ya1, ya3, ya2, a_bridge_r, a_purple_r, a_lens_r])
col = cmap(norm(2 * xa * ya / (xa + ya)))
edge = col.copy()
edge[:, :3] *= 0.8
dots(ax, lens, xa, ya, col, ec=edge, s=10, s_big=220, lw=0.3, lw_big=2.6)

cax = fig.add_axes([112 / W, 1 - 459.5 / H, SIZE / W, 24.5 / H])
cb = fig.colorbar(ScalarMappable(norm, cmap), cax=cax, orientation='horizontal')
cb.set_ticks(cbar_ticks, labels=[str(t) for t in cbar_ticks])
cax.tick_params(direction='in', length=5, width=0.8, color=GRAY, top=True, bottom=True, labelsize=11, pad=4)
cb.outline.set_linewidth(0.8)
cb.outline.set_edgecolor('#333333')

# b
ax = add_panel(581, 36)
labels(ax, 'Influence of Normalization', 'b)', title_y=15, letter_y=16)
lens = lens_frame(ax)
xb, yb = unroll(b_blue_recall, b_blue_precision)
dots(ax, lens, np.concatenate([xb, b_blue_p]), np.concatenate([yb, b_blue_r]), 'blue')
xb, yb = unroll(b_red_recall, b_red_precision)
dots(ax, lens, np.concatenate([xb, b_red_p]), np.concatenate([yb, b_red_r]), 'red')
xb, yb = unroll(b_green_recall, b_green_precision)
dots(ax, lens, np.concatenate([xb, b_green_p]), np.concatenate([yb, b_green_r]), '#00ff00')
legend(ax, [dot_handle('blue', 'no'), dot_handle('red', r'$\eta$-norm'), dot_handle('#00ff00', r'$z$-norm')], 750, 435.5)

# c
ax = add_panel(112, 513)
labels(ax, 'Influence of Threshold Determination', 'c)', title_y=491, letter_y=494)
lens = lens_frame(ax)
dots(ax, lens, c_havg_p, c_havg_r, 'blue')
dots(ax, lens, c_hmid_p, c_hmid_r, 'red')
dots(ax, lens, c_hmin_p, c_hmin_r, '#00ff00')
legend(ax, [dot_handle('blue', 'HAvgD'), dot_handle('red', 'HMidD'), dot_handle('#00ff00', 'HMinD')], 281.5, 915)

# d
ax = add_panel(581, 513)
labels(ax, 'Influence of Window Size Determination', 'd)', title_y=491, letter_y=494)
lens = lens_frame(ax)
dots(ax, lens, d_avg_p, d_avg_r, 'blue')
dots(ax, lens, d_max_p, d_max_r, 'red')
dots(ax, lens, d_mid_p, d_mid_r, '#00ff00')
dots(ax, lens, d_min_p, d_min_r, 'purple')
legend(ax, [dot_handle('blue', 'avg'), dot_handle('red', 'max'), dot_handle('#00ff00', 'mid'), dot_handle('purple', 'min')], 750, 915)

# e
ax = add_panel(112, 962)
labels(ax, 'Influence of Time Series Filter Measure', 'e)', title_y=941, letter_y=944)
lens = lens_frame(ax)
dots(ax, lens, e_lnce_p, e_lnce_r, 'none', ec='blue', s=25, s_big=1000, lw=0.6, lw_big=3.0)
dots(ax, lens, e_var_p, e_var_r, 'none', ec='red', s=26, s_big=1100, lw=0.6, lw_big=3.2, marker=TRIANGLE)
ax.scatter(e_nofilter_p, e_nofilter_r, s=11, c='black', marker='x', linewidths=0.6, zorder=3)
big = ax.scatter(LENS_X + (np.array(e_nofilter_p) - spy_p) * MAG, LENS_Y + (np.array(e_nofilter_r) - spy_r) * MAG,
                 s=470, c='black', marker='x', linewidths=3.4, zorder=6)
big.set_clip_path(lens)
legend(ax, [Line2D([], [], ls='none', marker='o', ms=5.5, mfc='none', mew=0.8, color='blue', label='LNCE'),
            Line2D([], [], ls='none', marker='^', ms=5, mfc='none', mew=0.8, color='red', label='VAR'),
            Line2D([], [], ls='none', marker='x', ms=3.5, mew=0.8, color='black', label='No Filter')], 281, 1363.5)

# f
ax = add_panel(581, 965)
labels(ax, 'Differentiation according to Gestures', 'f)', xlab=r'$Precision$', ylab=r'$Recall$', title_y=941, letter_y=944)
ax.scatter(f_precision, f_recall, s=28, c='blue', zorder=3, clip_on=False)
for lab, p, r, dx, dy in zip(f_labels, f_precision, f_recall, f_label_dx, f_label_dy):
    ax.annotate(r'$' + lab + '$', (p, r), xytext=(dx * 0.72, dy * 0.72), textcoords='offset points',
                ha='center', va='center', fontsize=11.5)

fig.savefig('out.png', dpi=100)
